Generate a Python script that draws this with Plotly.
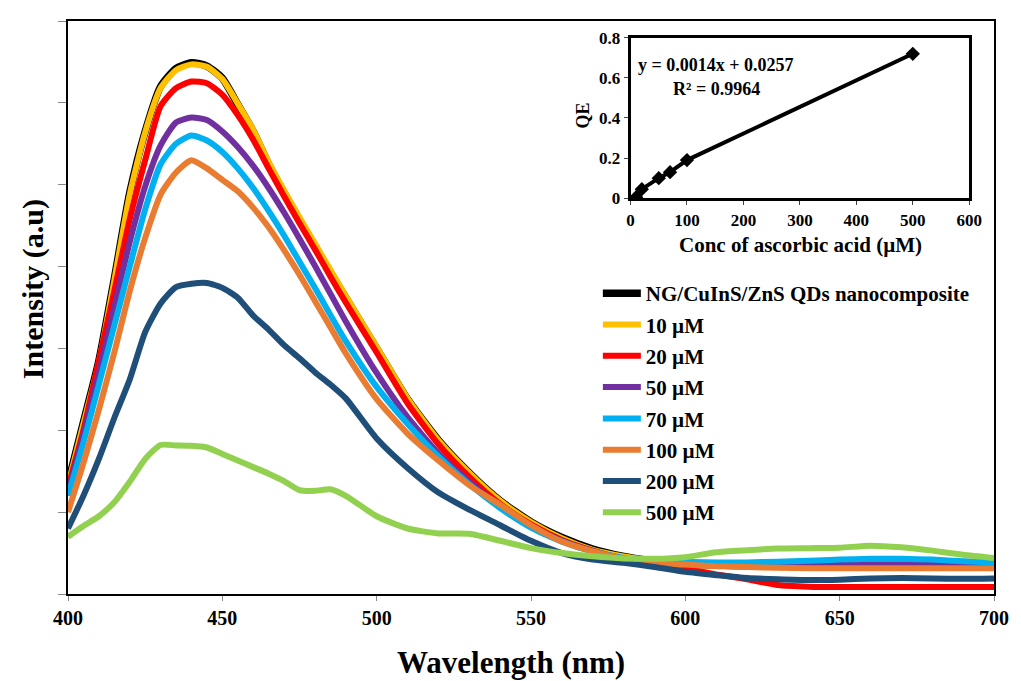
import plotly.graph_objects as go

wavelength = [400, 405, 410, 415, 420, 425, 430, 435, 440, 445, 450, 455, 460, 465, 470, 475, 480, 485, 490,
              500, 510, 520, 530, 540, 550, 560, 570, 580, 590, 600, 610, 620, 630, 640, 650, 660, 670, 680, 690, 700]

ng_base = [1350, 2100, 2850, 3850, 4900, 5650, 6200, 6420, 6490, 6450, 6300, 5980, 5650, 5250, 4900, 4570, 4250, 3930, 3620,
           3000, 2380, 1880, 1480, 1140, 880, 690, 550, 460, 400, 370, 355, 345, 340, 340, 345, 350, 345, 340, 335, 330]
c10 = [1330, 2080, 2830, 3830, 4880, 5640, 6180, 6400, 6470, 6440, 6290, 5990, 5670, 5280, 4930, 4600, 4280, 3960, 3640,
       3020, 2390, 1880, 1480, 1140, 880, 680, 540, 460, 410, 390, 380, 380, 390, 400, 410, 420, 415, 405, 395, 390]
c20 = [1300, 2000, 2850, 3700, 4580, 5300, 5960, 6180, 6260, 6240, 6100, 5850, 5550, 5200, 4860, 4530, 4210, 3880, 3560,
       2950, 2330, 1830, 1430, 1100, 850, 660, 530, 430, 370, 310, 240, 180, 110, 90, 85, 85, 85, 85, 85, 85]
c50 = [1250, 1950, 2700, 3500, 4300, 4980, 5480, 5760, 5820, 5790, 5650, 5460, 5230, 4960, 4660, 4340, 4010, 3670, 3330,
       2700, 2160, 1720, 1370, 1070, 830, 650, 520, 430, 380, 360, 350, 345, 345, 350, 355, 360, 360, 355, 350, 345]
c70 = [1200, 1850, 2560, 3280, 4000, 4700, 5250, 5500, 5600, 5540, 5400, 5200, 4960, 4680, 4380, 4060, 3740, 3410, 3090,
       2530, 2080, 1680, 1340, 1050, 810, 640, 520, 440, 400, 390, 385, 385, 395, 405, 420, 430, 430, 420, 400, 385]
c100 = [1000, 1600, 2250, 2950, 3700, 4350, 4880, 5150, 5300, 5200, 5060, 4920, 4720, 4480, 4200, 3900, 3580, 3260, 2940,
        2380, 1960, 1630, 1330, 1090, 840, 640, 520, 430, 380, 360, 340, 330, 320, 315, 315, 315, 315, 315, 315, 315]
c200 = [800, 1200, 1650, 2150, 2620, 3200, 3550, 3750, 3790, 3800, 3740, 3620, 3400, 3230, 3040, 2880, 2710, 2560, 2390,
        1900, 1540, 1240, 1030, 840, 650, 500, 420, 380, 330, 270, 230, 195, 180, 170, 175, 190, 195, 190, 185, 190]
c500 = [700, 830, 950, 1120, 1370, 1650, 1820, 1815, 1810, 1790, 1710, 1630, 1550, 1470, 1380, 1270, 1260, 1280, 1200,
        950, 800, 740, 735, 650, 560, 500, 460, 435, 430, 450, 510, 535, 555, 560, 565, 590, 570, 530, 480, 440]

series_names = ["NG/CuInS/ZnS QDs nanocomposite", "10 µM", "20 µM", "50 µM", "70 µM", "100 µM", "200 µM", "500 µM"]
series_values = [ng_base, c10, c20, c50, c70, c100, c200, c500]
series_colors = ["#000000", "#FFC000", "#FF0000", "#7030A0", "#00B0F0", "#E97C30", "#1F4E79", "#92D050"]

# inset data
conc = [10, 20, 50, 70, 100, 500]
qe = [0.005, 0.045, 0.10, 0.13, 0.19, 0.72]

FONT = "Liberation Serif, Times New Roman, serif"

fig = go.Figure()
for i, (name, vals, col) in enumerate(zip(series_names, series_values, series_colors)):
    fig.add_trace(go.Scatter(
        x=wavelength, y=vals, mode="lines", name=name,
        line=dict(color=col, width=7.5 if i == 0 else 6, shape="spline", smoothing=0.6),
        legendgroup=f"g{i}", xaxis="x", yaxis="y"))

fig.add_trace(go.Scatter(
    x=conc, y=qe, mode="lines+markers", showlegend=False,
    line=dict(color="#000000", width=4),
    marker=dict(symbol="diamond", size=11, color="#000000"),
    xaxis="x2", yaxis="y2"))

L, R, T, B = 68, 1003, 12, 594
W, H = 1021, 681
pw, ph = R - L, B - T

def px(x):
    return (x - L) / pw

def py(y):
    return (B - y) / ph

fig.update_layout(
    width=W, height=H,
    margin=dict(l=L, r=W - R, t=T, b=H - B),
    paper_bgcolor="white", plot_bgcolor="white",
    font=dict(family=FONT, color="black", weight="bold"),
    showlegend=True,
    legend=dict(x=px(603), y=py(268), xanchor="left", yanchor="top",
                font=dict(family=FONT, size=21, weight="bold", color="black"),
                bgcolor="rgba(0,0,0,0)", tracegroupgap=1, itemwidth=38),
    xaxis=dict(range=[400, 700], tickvals=[400, 450, 500, 550, 600, 650, 700],
               ticks="outside", ticklen=5, tickcolor="#888888",
               showline=True, linecolor="black", linewidth=2, mirror=True,
               showgrid=False, zeroline=False,
               tickfont=dict(family=FONT, size=20, weight="bold", color="black")),
    yaxis=dict(range=[0, 7000], tickvals=[0, 1000, 2000, 3000, 4000, 5000, 6000, 7000],
               showticklabels=False, ticks="outside", ticklen=8, tickcolor="#888888",
               showline=True, linecolor="black", linewidth=2, mirror=True,
               showgrid=False, zeroline=False),
    xaxis2=dict(domain=[px(636), px(978)], anchor="y2", range=[0, 600],
                tickvals=[0, 100, 200, 300, 400, 500, 600], ticks="outside", ticklen=4,
                showline=True, linecolor="black", linewidth=3, mirror=True,
                showgrid=False, zeroline=False,
                tickfont=dict(family=FONT, size=17, weight="bold", color="black")),
    yaxis2=dict(domain=[py(192), py(29)], anchor="x2", range=[0, 0.8],
                tickvals=[0, 0.2, 0.4, 0.6, 0.8], ticks="outside", ticklen=4,
                showline=True, linecolor="black", linewidth=3, mirror=True,
                showgrid=False, zeroline=False,
                tickfont=dict(family=FONT, size=17, weight="bold", color="black")),
)

ann = [
    dict(text="Wavelength (nm)", x=px(515), y=py(664), font=dict(size=31)),
    dict(text="Intensity (a.u)", x=px(32), y=py(284), textangle=-90, font=dict(size=30)),
    dict(text="Conc of ascorbic acid (µM)", x=px(808), y=py(240), font=dict(size=21)),
    dict(text="QE", x=px(588), y=py(108), textangle=-90, font=dict(size=18)),
    dict(text="y = 0.0014x + 0.0257", x=px(722), y=py(57), font=dict(size=18)),
    dict(text="R² = 0.9964", x=px(723), y=py(81), font=dict(size=18)),
]
for a in ann:
    f = dict(family=FONT, weight="bold", color="black")
    f.update(a.pop("font"))
    fig.add_annotation(xref="paper", yref="paper", showarrow=False,
                       xanchor="center", yanchor="middle", font=f, **a)

fig.write_html("out.html", config={"displayModeBar": False},
               post_script="document.body.style.margin='0';")
